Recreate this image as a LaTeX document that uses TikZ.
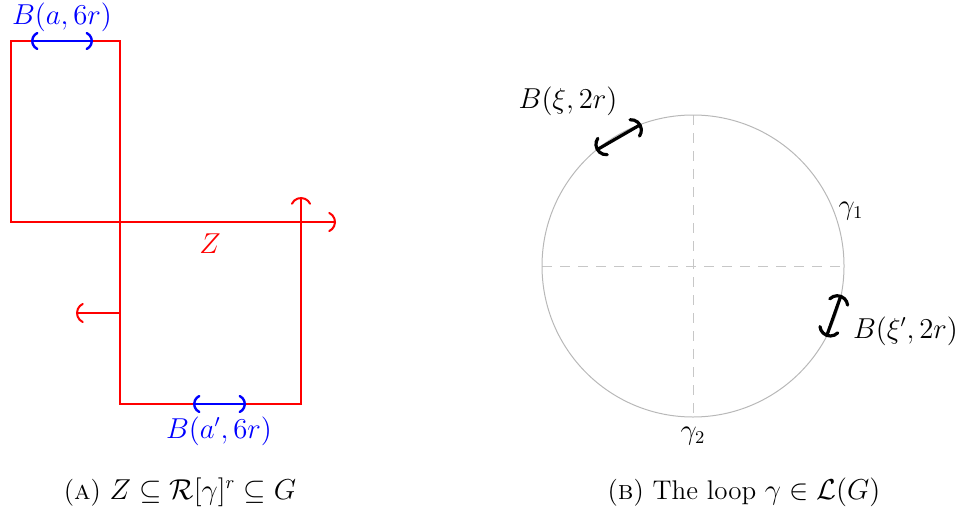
\documentclass[tikz,border=0pt]{standalone}
\usepackage{amsmath,amssymb}
\usepackage{tikz}
\usetikzlibrary{arrows.meta,calc,positioning}

\begin{document}
\begin{tikzpicture}[x=0.5pt,y=-0.5pt,
  every node/.style={font=\fontsize{13.5}{16}\selectfont},
  zpath/.style={red,line width=1pt},
  zout/.style={red,line width=1pt,-{Arc Barb[arc=130,length=5.5pt,width=11pt,line cap=round]}},
  ballA/.style={blue,line width=1.2pt,{Arc Barb[arc=130,length=5pt,width=10pt,line cap=round]}-{Arc Barb[arc=130,length=5pt,width=10pt,line cap=round]}},
  ballB/.style={black,line width=1.6pt,{Arc Barb[arc=130,length=6pt,width=12pt,line cap=round]}-{Arc Barb[arc=130,length=6pt,width=12pt,line cap=round]}},
  loop/.style={black!28,line width=0.5pt},
  axis/.style={black!22,dashed,dash pattern=on 5pt off 4pt,line width=0.5pt}]
  \useasboundingbox (0,0) rectangle (961,508);

  % (a) the set Z
  \coordinate (tl) at (11,41);
  \coordinate (tr) at (120,41);
  \coordinate (ml) at (11,222);
  \coordinate (mc) at (120,222);
  \coordinate (bl) at (120,404);
  \coordinate (br) at (301,404);
  \draw[zpath] (mc) -- (ml) -- (tl) -- (tr) -- (bl) -- (br) -- (301,300);
  \coordinate (zup) at (301,197);
  \coordinate (zright) at (336,222);
  \coordinate (zleft) at (76,313);
  \draw[zout] (br) -- (zup);
  \draw[zout] (ml) -- (zright);
  \draw[zout] (120,313) -- (zleft);
  \node[red] (zlab) at (210,244) {$Z$};

  \draw[ballA] (31,41) -- (93,41);
  \node[blue] (balla) at (62,17) {$B(a,6r)$};
  \draw[ballA] (193,404) -- (246,404);
  \node[blue] (ballap) at (219,431) {$B(a',6r)$};

  \node (capA) at (180,492) {(\textsc{a}) $Z\subseteq\mathcal{R}[\gamma]^r\subseteq G$};

  % (b) the loop gamma
  \coordinate (o) at (693,266);
  \draw[axis] (542,266) -- (845,266);
  \draw[axis] (693,115) -- (693,417);
  \draw[loop] (o) circle[radius=151];
  \draw[ballB] ($(o)+(130:151 and -151)$) -- ($(o)+(110:151 and -151)$);
  \node (xi) at (568,101) {$B(\xi,2r)$};
  \draw[ballB] ($(o)+(-11:151 and -151)$) -- ($(o)+(-28:151 and -151)$);
  \node[anchor=west] (xip) at (846,331) {$B(\xi',2r)$};
  \node (g1) at (851,211) {$\gamma_1$};
  \node (g2) at (693,436) {$\gamma_2$};

  \node (capB) at (744,492) {(\textsc{b}) The loop $\gamma\in\mathcal{L}(G)$};
\end{tikzpicture}
\end{document}
